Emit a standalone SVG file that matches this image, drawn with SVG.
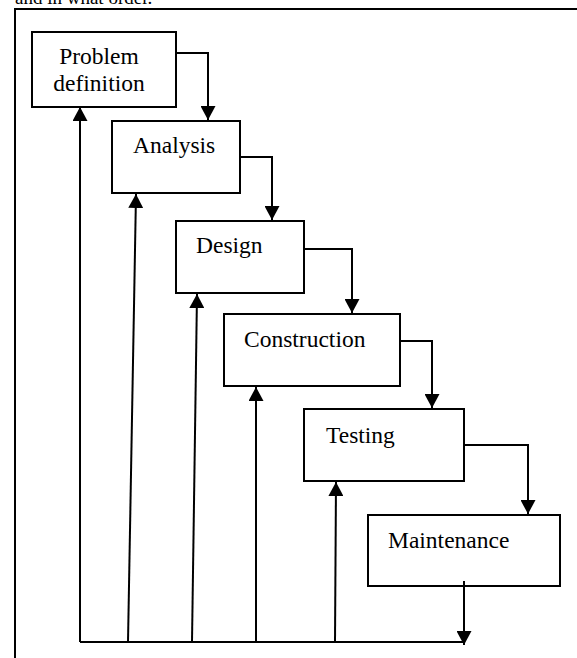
<svg xmlns="http://www.w3.org/2000/svg" width="577" height="658" viewBox="0 0 577 658">
  <style>
    .box { fill: #ffffff; stroke: #000000; stroke-width: 2; }
    .label { font-family: "Liberation Serif", "Times New Roman", serif; font-size: 23.5px; fill: #000000; }
    .wire { fill: none; stroke: #000000; stroke-width: 2; marker-end: url(#arrow); }
    .plain { fill: none; stroke: #000000; stroke-width: 2; }
  </style>
  <defs>
    <marker id="arrow" viewBox="0 0 14 15" markerWidth="14" markerHeight="15" refX="14" refY="7.5" orient="auto" markerUnits="userSpaceOnUse">
      <path d="M0,0 L14,7.5 L0,15 Z" fill="#000000"/>
    </marker>
  </defs>
  <rect width="577" height="658" fill="#ffffff"/>

  <!-- caption line running above the frame -->
  <text class="label" x="15" y="4" style="font-size:19px">and in what order.</text>

  <!-- outer frame -->
  <path class="plain" d="M15,670 V9 H590"/>

  <!-- phases -->
  <g id="problem-definition">
    <rect class="box" x="32" y="32" width="144" height="75"/>
    <text class="label" x="99" y="64" text-anchor="middle">Problem</text>
    <text class="label" x="99" y="91" text-anchor="middle">definition</text>
  </g>
  <g id="analysis">
    <rect class="box" x="112" y="121" width="128" height="72"/>
    <text class="label" x="133" y="153">Analysis</text>
  </g>
  <g id="design">
    <rect class="box" x="176" y="221" width="128" height="72"/>
    <text class="label" x="196" y="253">Design</text>
  </g>
  <g id="construction">
    <rect class="box" x="224" y="314" width="176" height="72"/>
    <text class="label" x="244" y="347">Construction</text>
  </g>
  <g id="testing">
    <rect class="box" x="304" y="409" width="160" height="72"/>
    <text class="label" x="326" y="443">Testing</text>
  </g>
  <g id="maintenance">
    <rect class="box" x="368" y="515" width="192" height="71"/>
    <text class="label" x="388" y="548">Maintenance</text>
  </g>

  <!-- connectors -->
  <g id="connectors">
    <!-- forward flow -->
    <path class="wire" d="M176,53 H208 V120"/>
    <path class="wire" d="M240,157 H272 V220"/>
    <path class="wire" d="M304,249 H352 V313"/>
    <path class="wire" d="M400,341 H432 V408"/>
    <path class="wire" d="M464,445 H528 V514"/>
    <path class="wire" d="M464,581 V645"/>
    <!-- return bus -->
    <path class="plain" d="M80,642 H463"/>
    <path class="wire" d="M80,642 V107"/>
    <path class="wire" d="M128,642 L136,194"/>
    <path class="wire" d="M192,642 L197,294"/>
    <path class="wire" d="M256,642 V387"/>
    <path class="wire" d="M335,642 L336,482"/>
  </g>
</svg>
